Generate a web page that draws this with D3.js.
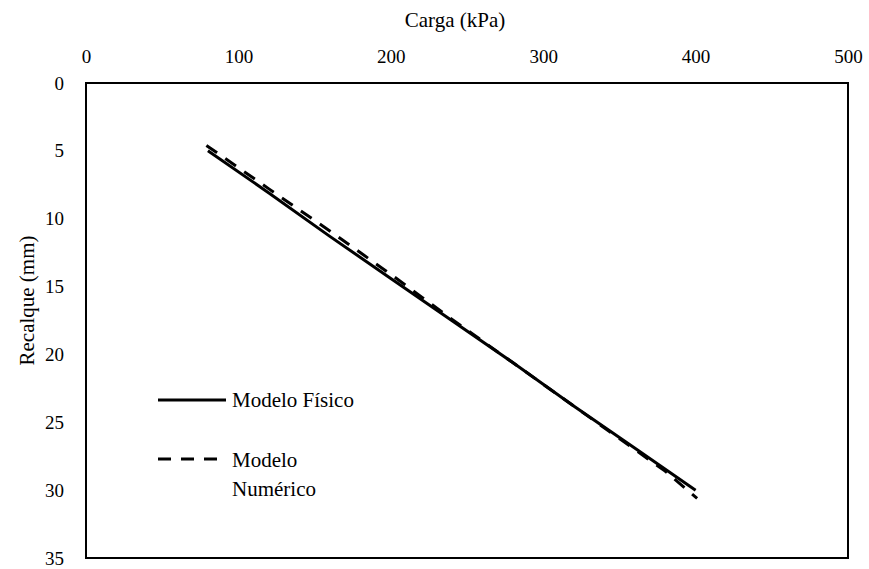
<!DOCTYPE html>
<html>
<head>
<meta charset="utf-8">
<script src="https://cdn.jsdelivr.net/npm/d3@7"></script>
<style>
  body { margin: 0; background: #fff; }
</style>
</head>
<body>
<svg id="chart" width="869" height="569"></svg>
<script>
// load (kPa) vs settlement (mm)
const fisicoCarga = [80, 120, 160, 200, 240, 280, 320, 360, 400]
const fisicoRecalque = [5.0, 8.1, 11.3, 14.4, 17.5, 20.6, 23.8, 26.9, 30.0]
const numericoCarga = [79, 120, 160, 200, 240, 280, 320, 360, 380, 401]
const numericoRecalque = [4.6, 7.8, 10.9, 14.1, 17.4, 20.6, 23.8, 27.0, 28.6, 30.6]
const xTicks = [0, 100, 200, 300, 400, 500]
const yTicks = [0, 5, 10, 15, 20, 25, 30, 35]

const FONT = '"Liberation Serif", "DejaVu Serif", serif'

const margin = { left: 86, right: 21, top: 83, bottom: 11 }
const width = 869 - margin.left - margin.right
const height = 569 - margin.top - margin.bottom

const svg = d3.select('#chart')
const g = svg.append('g').attr('transform', `translate(${margin.left},${margin.top})`)

const x = d3.scaleLinear().domain([0, 500]).range([0, width])
const y = d3.scaleLinear().domain([0, 35]).range([0, height])

// top axis labels, no tick marks
const xAxis = g.append('g')
  .call(d3.axisTop(x).tickValues(xTicks).tickSize(0).tickPadding(20))
  .attr('font-family', null)
xAxis.select('.domain').remove()

const yAxis = g.append('g')
  .call(d3.axisLeft(y).tickValues(yTicks).tickSize(0).tickPadding(22))
  .attr('font-family', null)
yAxis.select('.domain').remove()

// frame
g.append('rect')
  .attr('width', width).attr('height', height)
  .attr('fill', 'none').attr('stroke', '#000').attr('stroke-width', 2)

svg.append('text')
  .attr('x', margin.left + x(250) - 12).attr('y', 27)
  .attr('text-anchor', 'middle').attr('font-size', 21)
  .text('Carga (kPa)')

svg.append('text')
  .attr('transform', `translate(34,${margin.top + y(17.5) - 20}) rotate(-90)`)
  .attr('text-anchor', 'middle').attr('font-size', 21)
  .text('Recalque (mm)')

const line = d3.line().x(d => x(d[0])).y(d => y(d[1]))

const fisico = fisicoCarga.map((c, i) => [c, fisicoRecalque[i]])
const numerico = numericoCarga.map((c, i) => [c, numericoRecalque[i]])

g.append('path')
  .datum(fisico)
  .attr('d', line)
  .attr('fill', 'none').attr('stroke', '#000').attr('stroke-width', 3)

g.append('path')
  .datum(numerico)
  .attr('d', line)
  .attr('fill', 'none').attr('stroke', '#000').attr('stroke-width', 3)
  .attr('stroke-dasharray', '13,10')

// legend
const leg = svg.append('g')
leg.append('line').attr('x1', 158).attr('x2', 226).attr('y1', 400).attr('y2', 400)
  .attr('stroke', '#000').attr('stroke-width', 3)
leg.append('text').attr('x', 232).attr('y', 407).attr('font-size', 21).text('Modelo Físico')
leg.append('line').attr('x1', 158).attr('x2', 226).attr('y1', 459).attr('y2', 459)
  .attr('stroke', '#000').attr('stroke-width', 3).attr('stroke-dasharray', '13,10')
leg.append('text').attr('x', 232).attr('y', 467).attr('font-size', 21).text('Modelo')
leg.append('text').attr('x', 232).attr('y', 496).attr('font-size', 21).text('Numérico')

// serif font on all labels
svg.selectAll('text')
  .style('font-family', FONT)
  .style('fill', '#000')
xAxis.selectAll('text').attr('font-size', 19)
yAxis.selectAll('text').attr('font-size', 19)
</script>
</body>
</html>
